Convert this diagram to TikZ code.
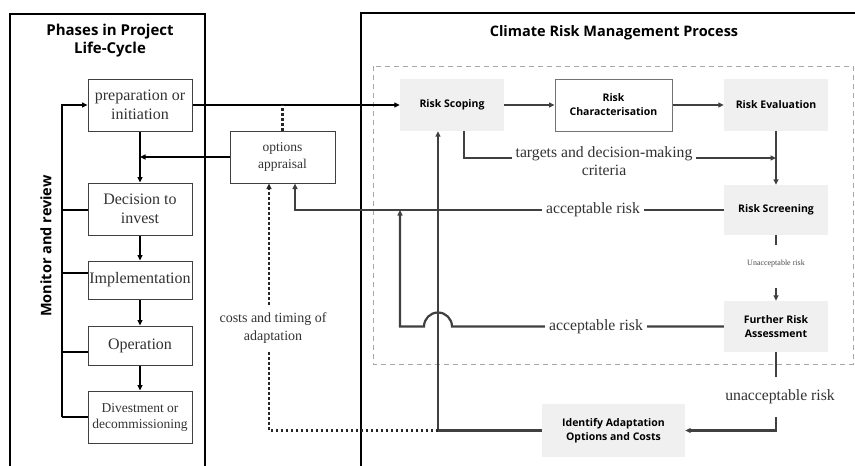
\documentclass[tikz,border=0pt]{standalone}
\usepackage{fontspec}
\setmainfont{Liberation Serif}
\newfontfamily\hdfont{Open Sans}
\usetikzlibrary{arrows.meta,calc}
\definecolor{rline}{HTML}{404040}
\definecolor{rfill}{HTML}{F0F0F0}
\definecolor{tgray}{HTML}{333333}
\tikzset{
  >={Triangle[length=5.5pt,width=5pt]},
  lconn/.style={line width=2.5pt, draw=black},
  rconn/.style={line width=2.2pt, draw=rline},
  dots/.style={line width=2.6pt, dash pattern=on 2.5pt off 2.5pt, draw=black!85},
  phase/.style={draw=black!75, line width=1pt, minimum width=104pt, inner sep=1pt, align=center, fill=white, text=tgray, font=\fontsize{16}{18.5}\selectfont},
  rbox/.style={fill=rfill, minimum width=104pt, minimum height=52pt, inner sep=1pt, align=center, font=\hdfont\bfseries\fontsize{10.5}{14}\selectfont},
  lbl/.style={fill=white, inner xsep=4pt, inner ysep=1pt, align=center, text=tgray, font=\fontsize{15.7}{18.5}\selectfont},
  title/.style={font=\hdfont\bfseries\fontsize{14.5}{19}\selectfont, align=center}
}
\begin{document}
\begin{tikzpicture}[x=1pt,y=-1pt]
\useasboundingbox (0,0) rectangle (855,466);
% frames
\draw[line width=1.8pt] (10,470) -- (10,14) -- (205,14) -- (205,470);
\draw[line width=1.8pt] (361,470) -- (361,13) -- (860,13);
\draw[draw=black!35, line width=1pt, dash pattern=on 5pt off 4pt] (373,66) rectangle (853,364);
% titles
\node[title, font=\hdfont\bfseries\fontsize{15}{18}\selectfont] (t1) at (110,41) {Phases in Project\\Life-Cycle};
\node[title] (t2) at (614,33) {Climate Risk Management Process};
\node[title, rotate=90] (mr) at (46,246) {Monitor and review};
% phase boxes
\node[phase, minimum height=52pt] (prep) at (140,105) {preparation or\\initiation};
\node[phase, minimum height=52pt] (dec) at (140,209) {Decision to\\invest};
\node[phase, minimum height=38pt] (impl) at (140,280) {Implementation};
\node[phase, minimum height=39pt] (oper) at (140,345.5) {Operation};
\node[phase, minimum height=52pt, font=\fontsize{13.5}{16}\selectfont] (dive) at (140,417) {Divestment or\\decommissioning};
\node[phase, minimum width=105pt, minimum height=52pt, font=\fontsize{13.5}{17}\selectfont] (opt) at (282.5,157) {options\\appraisal};
% risk boxes
\node[rbox] (scope) at (452,105) {Risk Scoping};
\node[rbox, fill=white, draw=black!55, line width=1pt, minimum width=117pt] (char) at (613.5,105) {Risk\\Characterisation};
\node[rbox] (eval) at (776,105) {Risk Evaluation};
\node[rbox, minimum height=50pt] (screen) at (776,210) {Risk Screening};
\node[rbox, minimum height=51pt] (further) at (776,326.5) {Further Risk\\Assessment};
\node[rbox, minimum width=143pt, minimum height=53pt] (ident) at (613.5,430.5) {Identify Adaptation\\Options and Costs};
% monitor and review line
\coordinate (mtop) at (62,105);
\coordinate (mbot) at (62,417);
\draw[lconn,->] (mbot) -- (mtop) -- (prep.west);
\draw[lconn] ($(dec.west)+(0,1)$) -- ($(dec.west -| mtop)+(0,1)$);
\draw[lconn] ($(impl.west)+(0,-7)$) -- ($(impl.west -| mtop)+(0,-7)$);
\draw[lconn] ($(oper.west)+(0,6.5)$) -- ($(oper.west -| mtop)+(0,6.5)$);
\draw[lconn] (dive.west) -- (mbot);
% left flow
\draw[lconn,->] (prep.south) -- (dec.north);
\draw[lconn,->] (dec.south) -- (impl.north);
\draw[lconn,->] (impl.south) -- (oper.north);
\draw[lconn,->] (oper.south) -- (dive.north);
\draw[lconn,->] (opt.west) -- (opt.west -| prep.south);
\draw[lconn,->] (prep.east) -- (scope.west);
\draw[dots] (opt.north) -- (opt.north |- prep.east);
% right flow
\draw[rconn,->] (scope.east) -- (char.west);
\draw[rconn,->] (char.east) -- (eval.west);
\draw[rconn,->] (eval.south) -- (screen.north);
\coordinate (tgtend) at ($(eval.south)!0.5!(screen.north)$);
\draw[rconn,->] ($(scope.south)+(12,0)$) |- (tgtend);
\node[lbl] (tgt) at (604,161) {targets and decision-making\\criteria};
% acceptable risk (upper)
\draw[rconn,->] (screen.west) -| ($(opt.south)+(12.5,0)$);
\node[lbl] (acc1) at (593,210) {acceptable risk};
% acceptable risk (lower) with jump
\coordinate (jx) at ($(scope.south)+(-14,0)$);
\coordinate (acc1j) at (400,210);
\draw[rconn,->] (further.west) -- ($(further.west -| jx)+(14,0)$) arc[start angle=0,end angle=180,radius=14pt] -- (further.west -| acc1j) -- (acc1j);
\node[lbl] (acc2) at (596,326.5) {acceptable risk};
% identify -> risk scoping
\draw[rconn,->] (ident.west) -| (jx);
% dotted costs and timing
\draw[dots,->] (jx |- ident.west) -| ($(opt.south)+(-13.5,0)$);
\node[lbl, font=\fontsize{14}{18}\selectfont, inner ysep=8pt] (cost) at (273,328) {costs and timing of\\adaptation};
% screening -> further
\draw[rconn,->] (screen.south) -- (further.north);
\node[fill=white, minimum height=43pt, inner xsep=2pt, inner ysep=0pt, text=black!70, font=\fontsize{8}{9}\selectfont] (unacc1) at (776,266.5) {\raisebox{8.5pt}{Unacceptable risk}};
% further -> identify
\draw[rconn,->] (further.south) |- (ident.east);
\node[lbl, minimum height=40pt] (unacc2) at (780,397) {unacceptable risk};
\end{tikzpicture}
\end{document}
